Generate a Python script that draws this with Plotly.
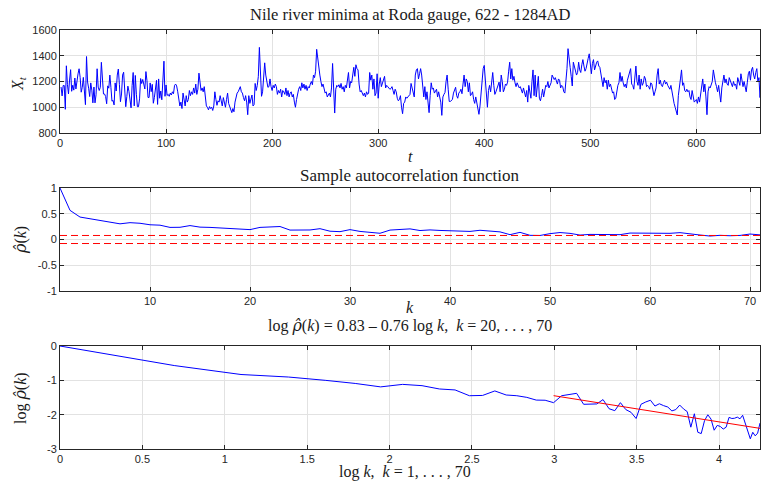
import numpy as np
import plotly.graph_objects as go

# ---------------- data ----------------
nile = [
    1157, 1088, 1169, 1169, 984, 1322, 1178, 1103, 1211, 1292,
    1124, 1171, 1133, 1227, 1142, 1216, 1259, 1299, 1232, 1117,
    1155, 1232, 1083, 1020, 1394, 1196, 1148, 1083, 1189, 1133,
    1034, 1157, 1034, 1097, 1299, 1157, 1130, 1155, 1349, 1232,
    1103, 1103, 1083, 1027, 1166, 1148, 1250, 1155, 1047, 1054,
    1018, 1189, 1126, 1250, 1297, 1178, 1043, 1103, 1250, 1272,
    1169, 1004, 1083, 1164, 1124, 1027, 995, 1169, 1270, 1011,
    1247, 1101, 1004, 1004, 1065, 1223, 1184, 1216, 1180, 1142,
    1277, 1206, 1076, 1076, 1189, 1121, 1178, 1031, 1076, 1178,
    1209, 1022, 1220, 1070, 1126, 1058, 1216, 1358, 1085, 1173,
    1092, 1100, 1085, 1110, 1095, 1120, 1105, 1170, 1180, 1165,
    1120, 1060, 1010, 1040, 990, 1110, 1050, 1010, 1090, 1040,
    1060, 1130, 1090, 1120, 1100, 1150, 1110, 1180, 1100, 1140,
    1265, 1170, 1130, 1150, 1120, 1160, 1080, 1010, 1000, 980,
    1005, 990, 1000, 975, 1010, 1120, 1060, 1015, 1050, 1040,
    1090, 1060, 1010, 1075, 1040, 1000, 1060, 1110, 1030, 1000,
    980, 958, 990, 965, 1040, 1090, 1110, 1120, 1150, 1160,
    1120, 1110, 1075, 1050, 1090, 1040, 942, 1090, 1030, 1060,
    1095, 1010, 1020, 1185, 1130, 1170, 1240, 1465, 1175, 1085,
    1120, 1220, 1345, 1250, 1185, 1155, 1160, 1220, 1160, 1130,
    1170, 1150, 1180, 1160, 1100, 1130, 1110, 1140, 1080, 1130,
    1120, 1100, 1150, 1090, 1130, 1080, 1110, 1120, 1080, 1100,
    1040, 1000, 1060, 1120, 1140, 1160, 1130, 1190, 1150, 1180,
    1140, 1170, 1130, 1160, 1150, 1180, 1200, 1175, 1250, 1230,
    1280, 1450, 1370, 1280, 1250, 1200, 1160, 1180, 1150, 1110,
    1120, 1080, 1095, 1110, 1080, 1150, 1340, 1100, 955, 1140,
    1170, 1160, 1175, 1150, 1185, 1140, 1160, 1120, 1170, 1150,
    1220, 1270, 1150, 1200, 1190, 1260, 1310, 1240, 1330, 1300,
    1290, 1180, 1120, 1130, 1100, 1090, 1110, 1080, 1120, 1100,
    1110, 1270, 1210, 1250, 1140, 1220, 1090, 1110, 1260, 1070,
    1180, 1230, 1160, 1190, 1200, 1240, 1150, 1170, 1160, 1150,
    1140, 1145, 1160, 1130, 1100, 1140, 1120, 1070, 1050, 1060,
    1090, 1000, 950, 1030, 1040, 1080, 1070, 1080, 1090, 1100,
    1185, 1140, 1120, 1080, 1250, 1290, 1300, 1220, 1260, 1300,
    1250, 1150, 1080, 1160, 1060, 1120, 1050, 958, 1090, 1190,
    1140, 1150, 1110, 1130, 1140, 1080, 1120, 1080, 1040, 937,
    1080, 1100, 1115, 1200, 1250, 1140, 1045, 1045, 1050, 1060,
    1110, 1130, 1155, 1090, 1070, 1110, 1120, 1140, 1105, 1180,
    1250, 1160, 1220, 1200, 1120, 1190, 1090, 1100, 1120, 1060,
    1030, 1080, 1030, 1000, 945, 1010, 1120, 1250, 1300, 1325,
    1200, 1070, 1000, 1130, 1170, 1120, 1180, 1270, 1170, 1100,
    1120, 1140, 1170, 1195, 1120, 1250, 1200, 1120, 1140, 1180,
    1170, 1195, 1280, 1350, 1220, 1300, 1210, 1240, 1190, 1160,
    1190, 1175, 1150, 1160, 1140, 1110, 1150, 1120, 1080, 1130,
    1040, 1170, 1110, 1070, 1200, 1290, 1090, 1250, 1080, 1160,
    1240, 1070, 1050, 1090, 1140, 1080, 1130, 1170, 1160, 1200,
    1150, 1180, 1190, 1250, 1230, 1215, 1230, 1200, 1180, 1220,
    1210, 1150, 1170, 1160, 1120, 1110, 1180, 1300, 1455, 1350,
    1310, 1240, 1165, 1350, 1320, 1290, 1250, 1270, 1350, 1290,
    1270, 1330, 1370, 1320, 1280, 1300, 1330, 1380, 1415, 1330,
    1260, 1340, 1370, 1290, 1330, 1350, 1360, 1320, 1310, 1260,
    1200, 1160, 1230, 1190, 1210, 1140, 1210, 1160, 1180, 1150,
    1110, 1120, 1060, 1070, 1140, 1170, 1190, 1270, 1200, 1240,
    1190, 1160, 1180, 1150, 1210, 1240, 1260, 1300, 1180, 1170,
    1140, 1220, 1320, 1200, 1170, 1250, 1140, 1220, 1170, 1190,
    1240, 1220, 1160, 1170, 1160, 1140, 1190, 1180, 1120, 1090,
    1120, 1150, 1250, 1300, 1180, 1210, 1170, 1160, 1190, 1210,
    1180, 1195, 1170, 1150, 1140, 1170, 1110, 1080, 1030, 1000,
    960, 940, 1090, 1180, 1220, 1290, 1170, 1190, 1130, 1120,
    1140, 1120, 1130, 1080, 1060, 1130, 1090, 1040, 1050, 1060,
    1030, 1080, 1040, 1100, 1160, 1220, 1120, 1180, 1080, 942,
    1120, 1160, 1150, 1170, 1200, 1290, 1230, 1190, 1160, 1120,
    1170, 1100, 1040, 1150, 1220, 1250, 1190, 1220, 1180, 1170,
    1230, 1210, 1180, 1160, 1200, 1170, 1180, 1140, 1230, 1190,
    1170, 1260, 1220, 1160, 1200, 1150, 1120, 1190, 1260, 1280,
    1210, 1290, 1310, 1250, 1220, 1270, 1300, 1200, 1230, 1075,
    1180, 1150, 1120,
]

# sample autocorrelation, k = 1..71 (k = 1 is lag 0)
acf = [
    1.0, 0.566, 0.436, 0.405, 0.368, 0.336, 0.304, 0.327, 0.315, 0.286,
    0.278, 0.235, 0.237, 0.270, 0.240, 0.235, 0.224, 0.207, 0.206, 0.192,
    0.235, 0.245, 0.252, 0.183, 0.185, 0.185, 0.210, 0.161, 0.152, 0.192,
    0.157, 0.145, 0.121, 0.183, 0.196, 0.206, 0.174, 0.186, 0.176, 0.169,
    0.151, 0.157, 0.179, 0.160, 0.148, 0.094, 0.139, 0.081, 0.078, 0.114,
    0.135, 0.119, 0.086, 0.099, 0.096, 0.089, 0.094, 0.125, 0.121, 0.122,
    0.126, 0.120, 0.133, 0.106, 0.087, 0.067, 0.081, 0.073, 0.079, 0.106,
    0.090,
]
conf_band = 0.078          # +/- significance bound
fit_intercept = 0.83       # log rho(k) = 0.83 - 0.76 log k
fit_slope = -0.76
fit_k_range = [20, 70]
log_k_max = 70

t_ticks = [0, 100, 200, 300, 400, 500, 600]
x_ticks_top = [800, 1000, 1200, 1400, 1600]
k_ticks = [10, 20, 30, 40, 50, 60, 70]
acf_ticks = [-1, -0.5, 0, 0.5, 1]
logk_ticks = [0, 0.5, 1, 1.5, 2, 2.5, 3, 3.5, 4]
logacf_ticks = [-3, -2, -1, 0]

# ---------------- figure ----------------
W, H = 761, 481


def fx(p):
    return p / W


def fy(p):
    return 1 - p / H


t = np.arange(1, len(nile) + 1)
k = np.arange(1, len(acf) + 1)
k_log = k[:log_k_max]
acf_log = np.log(np.array(acf[:log_k_max]))
fit_x = np.log(np.array(fit_k_range, dtype=float))
fit_y = fit_intercept + fit_slope * fit_x

BLUE = "#0000ff"
RED = "#ff0000"

fig = go.Figure()
fig.add_trace(go.Scatter(x=t, y=nile, mode="lines",
                         line=dict(color=BLUE, width=1), xaxis="x", yaxis="y"))
fig.add_trace(go.Scatter(x=k, y=acf, mode="lines",
                         line=dict(color=BLUE, width=1), xaxis="x2", yaxis="y2"))
for c in (conf_band, -conf_band):
    fig.add_trace(go.Scatter(x=[k[0], k[-1]], y=[c, c], mode="lines",
                             line=dict(color=RED, width=1, dash="7px,4px"),
                             xaxis="x2", yaxis="y2"))
fig.add_trace(go.Scatter(x=np.log(k_log), y=acf_log, mode="lines",
                         line=dict(color=BLUE, width=1), xaxis="x3", yaxis="y3"))
fig.add_trace(go.Scatter(x=fit_x, y=fit_y, mode="lines",
                         line=dict(color=RED, width=1), xaxis="x3", yaxis="y3"))

axis_style = dict(
    showline=True, linecolor="#262626", linewidth=1, mirror="ticks",
    ticks="inside", ticklen=4, tickcolor="#262626", tickwidth=1,
    showgrid=True, gridcolor="#e2e2e2", gridwidth=1, zeroline=False,
    tickfont=dict(family="Liberation Sans, Arial, sans-serif", size=11, color="#262626"),
    automargin=False, fixedrange=True,
)
xdom = [fx(60), fx(760)]

fig.update_layout(
    width=W, height=H, margin=dict(l=0, r=0, t=0, b=0),
    paper_bgcolor="white", plot_bgcolor="white", showlegend=False,
    xaxis=dict(axis_style, domain=xdom, range=[0, 660], tickvals=t_ticks, anchor="y"),
    yaxis=dict(axis_style, domain=[fy(133), fy(30)], range=[800, 1600],
               tickvals=x_ticks_top, anchor="x"),
    xaxis2=dict(axis_style, domain=xdom, range=[1, 71], tickvals=k_ticks, anchor="y2"),
    yaxis2=dict(axis_style, domain=[fy(291), fy(188)], range=[-1, 1],
                tickvals=acf_ticks, ticktext=["-1", "-0.5", "0", "0.5", "1"], anchor="x2"),
    xaxis3=dict(axis_style, domain=xdom, range=[0, float(np.log(log_k_max))],
                tickvals=logk_ticks, anchor="y3"),
    yaxis3=dict(axis_style, domain=[fy(449), fy(346)], range=[-3, 0],
                tickvals=logacf_ticks, ticktext=["-3", "-2", "-1", "0"], anchor="x3"),
)

SERIF = "Liberation Serif, Times New Roman, serif"
NB = "\u00a0"
RHOHAT = "<span style='font-family:DejaVu Serif'><i>ρ\u0302</i></span>"


def label(text, x, y, size=16, angle=0):
    fig.add_annotation(text=text, x=fx(x), y=fy(y), xref="paper", yref="paper",
                       showarrow=False, xanchor="center", yanchor="middle",
                       textangle=angle, font=dict(family=SERIF, size=size, color="#1a1a1a"))


label("Nile river minima at Roda gauge, 622 - 1284AD", 410, 14, size=16.5)
label("<i>t</i>", 410, 157)
label("<i>X</i><sub><i>t</i></sub>", 18, 84, angle=-90)

label("Sample autocorrelation function", 410, 175, size=17)
label("<i>k</i>", 410, 307)
label(RHOHAT + "(<i>k</i>)", 20, 240, angle=-90)

label("log" + NB + RHOHAT + "(<i>k</i>) = 0.83 – 0.76 log" + NB + "<i>k</i>," + NB * 2 +
      "<i>k</i> = 20, . . . , 70", 410, 325)
label("log" + NB + "<i>k</i>," + NB * 2 + "<i>k</i> = 1, . . . , 70", 405, 472)
label("log" + NB + RHOHAT + "(<i>k</i>)", 20, 398, angle=-90)

fig.write_html("out.html")
